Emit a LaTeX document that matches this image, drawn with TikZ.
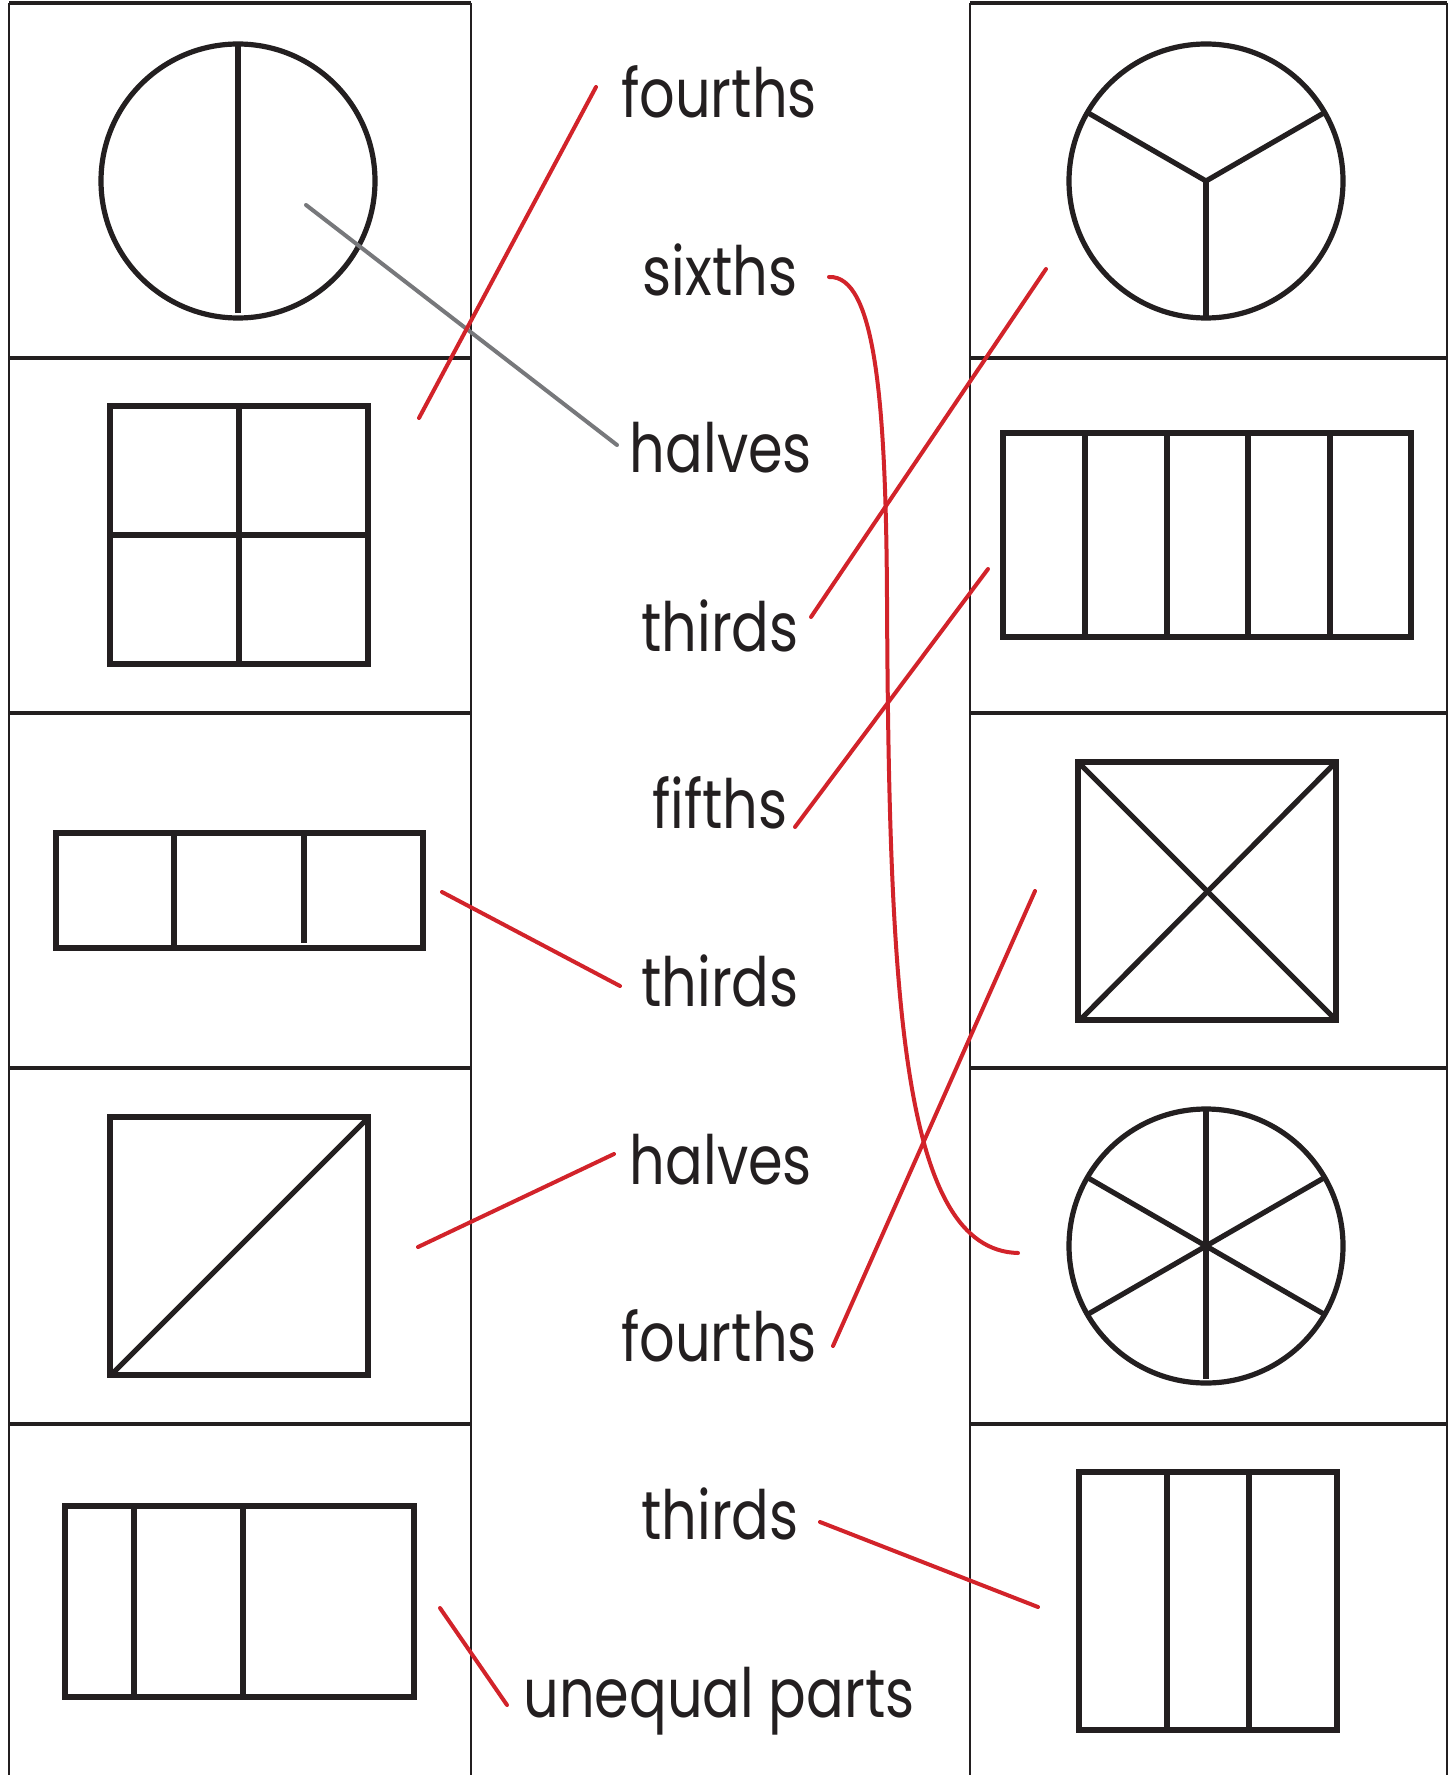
\documentclass[tikz,border=0pt]{standalone}
\usepackage{fontspec}
\newfontfamily\lbl{Poppins}[FakeStretch=0.82]
\definecolor{ink}{HTML}{231F20}
\definecolor{matchred}{HTML}{D2232A}
\definecolor{matchgray}{HTML}{77787B}
\begin{document}
\begin{tikzpicture}[x=0.5pt,y=-0.5pt]
\tikzset{
  figline/.style={draw=ink, line width=2.6pt},
  vrule/.style={draw=ink, line width=1pt},
  hrule/.style={draw=ink, line width=1.6pt},
  redline/.style={draw=matchred, line width=2pt, line cap=round},
  grayline/.style={draw=matchgray, line width=2pt, line cap=round},
  word/.style={font=\lbl\fontsize{34}{40}\selectfont, text=ink, inner sep=0pt, anchor=base}
}
\fill[white] (0,0) rectangle (1453,1775);
\useasboundingbox (0,0) rectangle (1453,1775);

% cell rules
\foreach \x in {9,471,970,1447} \draw[vrule] (\x,3) -- (\x,1775);
\foreach \y in {3,358,713,1068,1424} {
  \draw[hrule] (9,\y) -- (471,\y);
  \draw[hrule] (970,\y) -- (1447,\y);
}

% row 1 left: circle halves
\draw[figline] (238,181) circle[radius=68.5pt];
\draw[figline] (238,45) -- (238,313);
% row 1 right: circle thirds
\draw[figline] (1206,181) circle[radius=68.5pt];
\draw[figline] (1087.4,112.5) -- (1206,181) -- (1324.6,112.5);
\draw[figline] (1206,181) -- (1206,318);

% row 2 left: 2x2 square
\draw[figline] (110,406) rectangle (368,664);
\draw[figline] (239,406) -- (239,664);
\draw[figline] (110,535) -- (368,535);
% row 2 right: fifths rectangle
\draw[figline] (1003,433) rectangle (1411,637);
\foreach \x in {1085,1167,1248,1330} \draw[figline] (\x,433) -- (\x,637);

% row 3 left: thirds rectangle
\draw[figline] (56,833) rectangle (423,948);
\draw[figline] (174,833) -- (174,948);
\draw[figline] (304,833) -- (304,943);
% row 3 right: X square
\draw[figline] (1078,762) rectangle (1336,1020);
\draw[figline] (1078,762) -- (1336,1020);
\draw[figline] (1336,762) -- (1080,1020);

% row 4 left: diagonal square
\draw[figline] (110,1117) rectangle (368,1375);
\draw[figline] (113,1373) -- (368,1118);
% row 4 right: circle sixths
\draw[figline] (1206,1246) circle[radius=68.5pt];
\draw[figline] (1206,1111) -- (1206,1379);
\draw[figline] (1087.4,1177.5) -- (1324.6,1314.5);
\draw[figline] (1087.4,1314.5) -- (1324.6,1177.5);

% row 5 left: unequal rectangle
\draw[figline] (65,1506) rectangle (414,1697);
\draw[figline] (134,1506) -- (134,1697);
\draw[figline] (243,1506) -- (243,1697);
% row 5 right: thirds rectangle
\draw[figline] (1079,1472) rectangle (1337,1730);
\draw[figline] (1167,1472) -- (1167,1730);
\draw[figline] (1249,1472) -- (1249,1730);

% words
\node[word] (w1) at (719,118) {fourths};
\node[word] (w2) at (720,296) {sixths};
\node[word] (w3) at (721,473) {halves};
\node[word] (w4) at (720,651) {thirds};
\node[word] (w5) at (720,828) {fifths};
\node[word] (w6) at (720,1006) {thirds};
\node[word] (w7) at (721,1184) {halves};
\node[word] (w8) at (719,1361) {fourths};
\node[word] (w9) at (720,1539) {thirds};
\node[word] (w10) at (719,1717) {unequal parts};

% connector ends
\coordinate (g1a) at (306,205);  \coordinate (g1b) at (617,445);
\coordinate (r1a) at (596,87);   \coordinate (r1b) at (419,418);
\coordinate (r2a) at (829,277);  \coordinate (r2b) at (1018,1253);
\coordinate (r3a) at (811,617);  \coordinate (r3b) at (1046,269);
\coordinate (r4a) at (795,827);  \coordinate (r4b) at (988,569);
\coordinate (r5a) at (620,986);  \coordinate (r5b) at (442,892);
\coordinate (r6a) at (614,1154); \coordinate (r6b) at (418,1247);
\coordinate (r7a) at (833,1346); \coordinate (r7b) at (1035,891);
\coordinate (r8a) at (820,1522); \coordinate (r8b) at (1038,1607);
\coordinate (r9a) at (507,1705); \coordinate (r9b) at (440,1608);
\coordinate (r2m) at (887,600);

\draw[grayline] (g1a) -- (g1b);
\draw[redline] (r1a) -- (r1b);
\draw[redline] (r2a) .. controls (875,275) and (886,400) .. (r2m)
                     .. controls (889,1000) and (902,1250) .. (r2b);
\draw[redline] (r3a) -- (r3b);
\draw[redline] (r4a) -- (r4b);
\draw[redline] (r5a) -- (r5b);
\draw[redline] (r6a) -- (r6b);
\draw[redline] (r7a) -- (r7b);
\draw[redline] (r8a) -- (r8b);
\draw[redline] (r9a) -- (r9b);
\end{tikzpicture}
\end{document}
